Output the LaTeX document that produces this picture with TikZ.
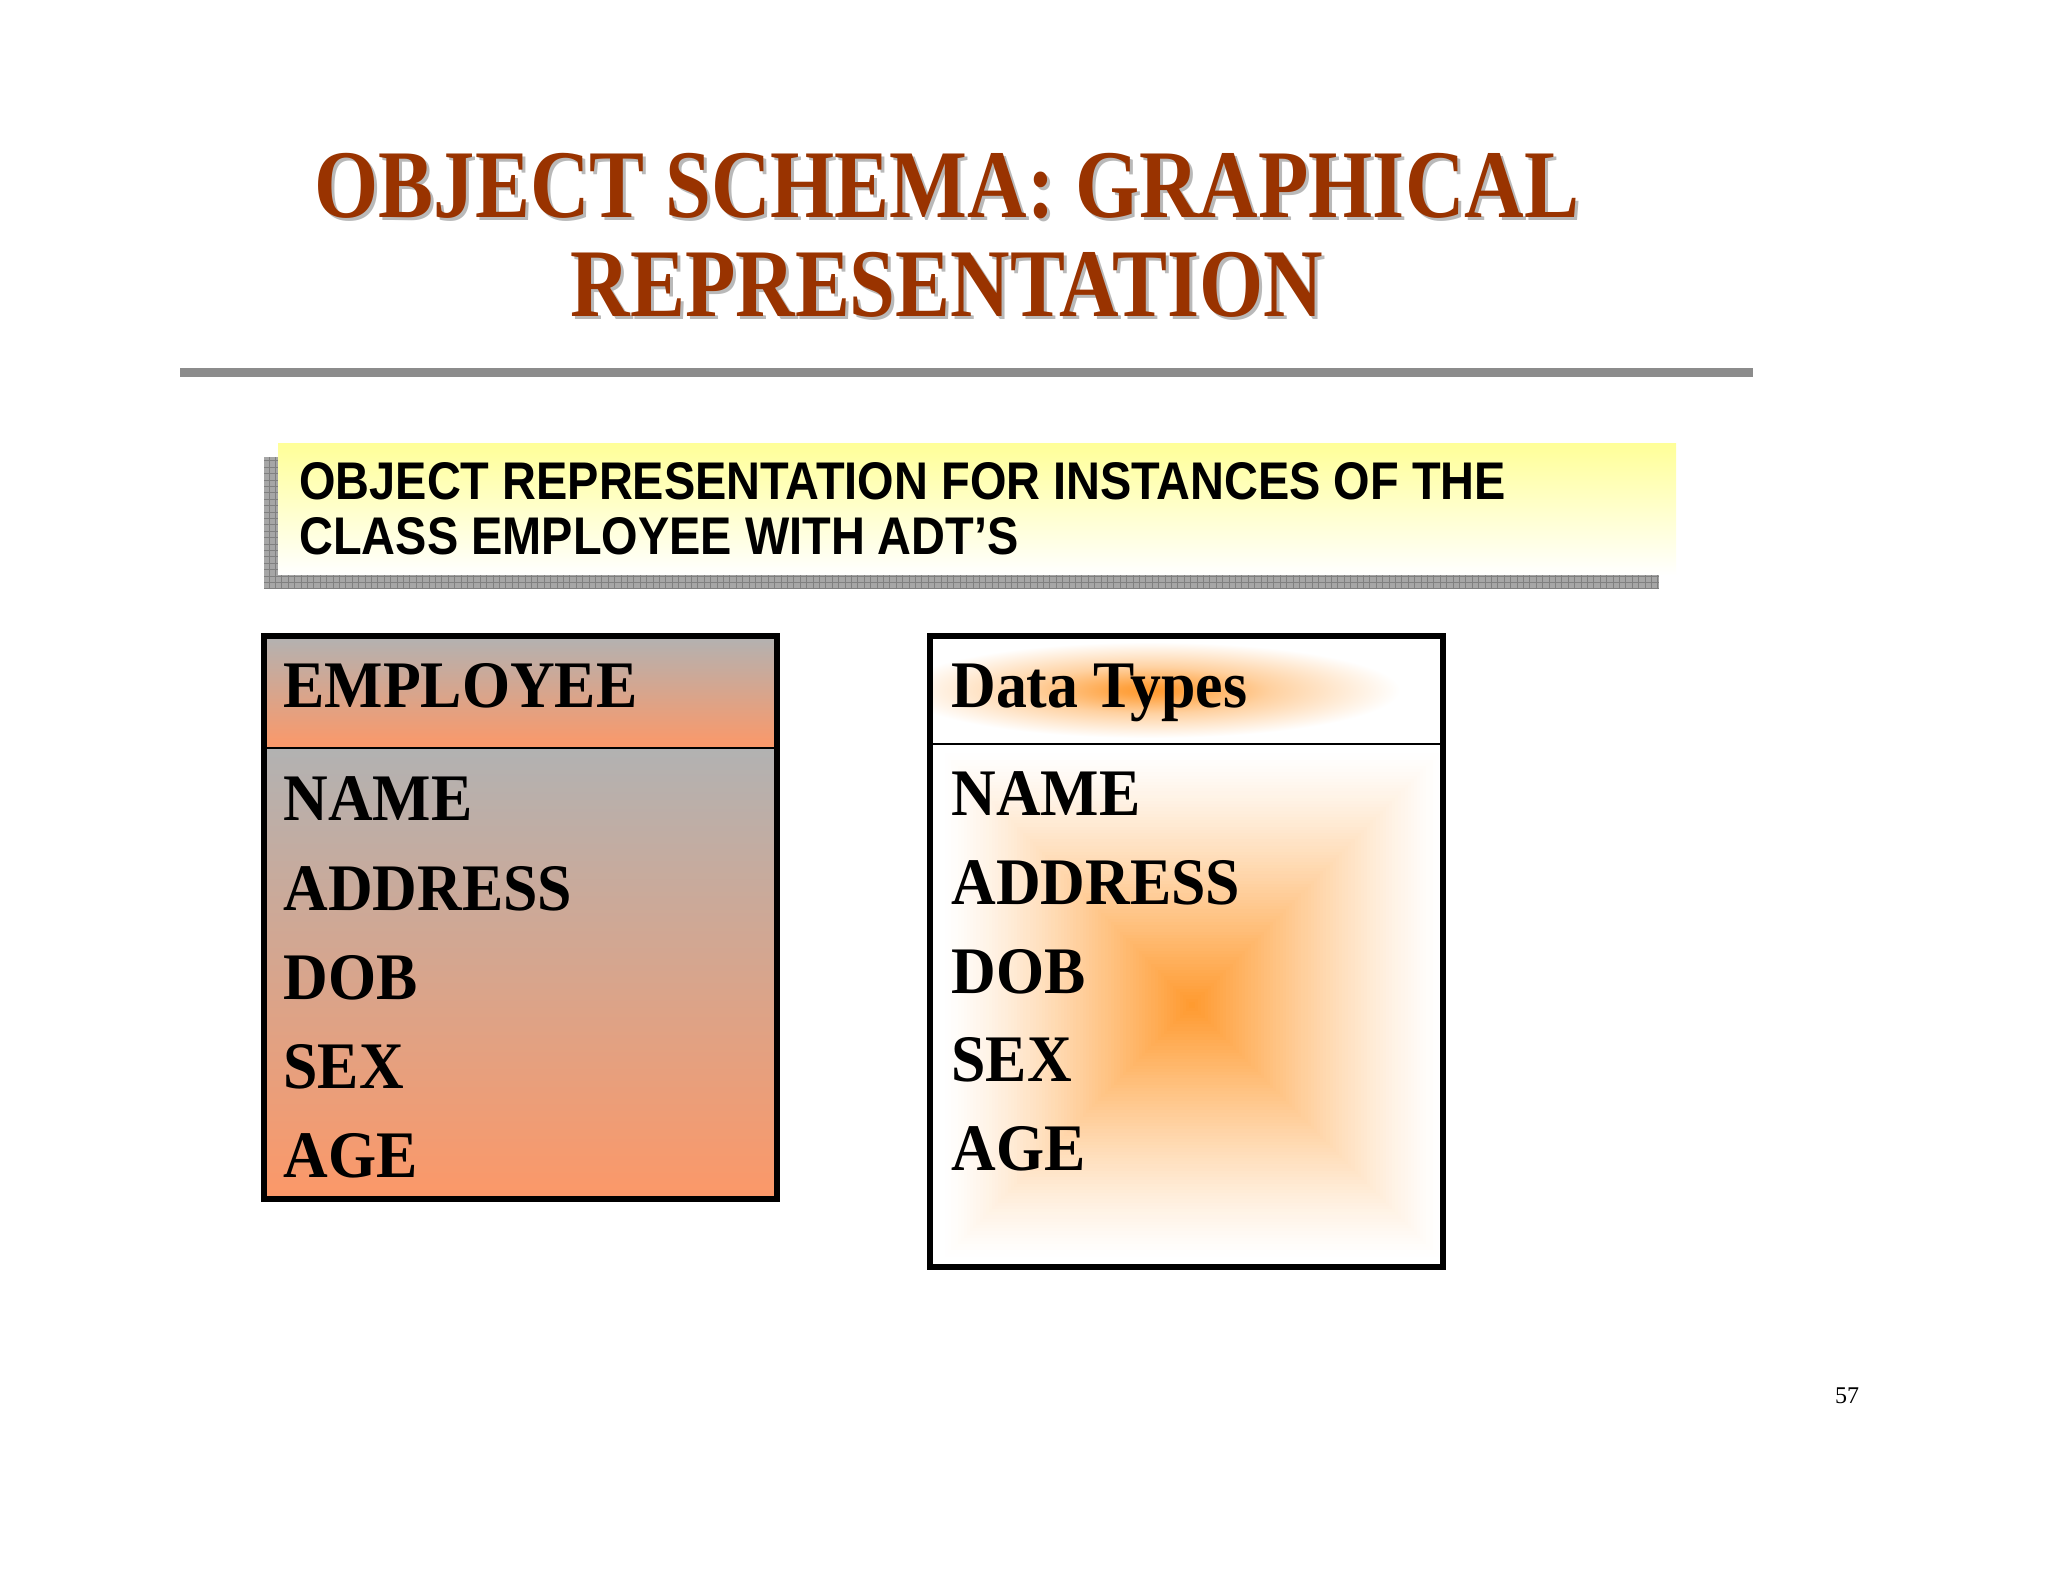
\documentclass[tikz,border=0pt]{standalone}
\usepackage{fontspec}
\setmainfont{Liberation Serif}
\newfontfamily\titlefont{Liberation Serif}[FakeStretch=0.85]
\newfontfamily\subfont{Liberation Sans}[FakeStretch=0.885]
\newfontfamily\bodyfont{Liberation Serif}[FakeStretch=0.93]
\definecolor{titlered}{RGB}{153,51,0}
\definecolor{titleshadow}{RGB}{185,185,185}
\definecolor{rulegray}{RGB}{140,140,140}
\definecolor{pyellow}{RGB}{255,255,153}
\definecolor{porange}{RGB}{252,152,104}
\definecolor{pgray}{RGB}{178,178,178}
\definecolor{glow}{RGB}{255,153,45}
\definecolor{shgray}{RGB}{166,166,166}
\definecolor{shline}{RGB}{128,128,128}
\pgfdeclareradialshading{hglow}{\pgfpoint{0bp}{0bp}}{color(0bp)=(glow); color(3bp)=(glow!90!white); color(12bp)=(glow!45!white); color(25bp)=(white); color(50bp)=(white)}
\begin{document}
\begin{tikzpicture}[x=0.5pt,y=-0.5pt,
  titletext/.style={anchor=base,inner sep=0pt,text=titlered,font=\titlefont\bfseries\fontsize{48.5pt}{50pt}\selectfont},
  titleshade/.style={anchor=base,inner sep=0pt,text=titleshadow,font=\titlefont\bfseries\fontsize{48.5pt}{50pt}\selectfont},
  subtext/.style={anchor=base west,inner sep=0pt,font=\subfont\bfseries\fontsize{26.5pt}{28pt}\selectfont},
  bodytext/.style={anchor=base west,inner sep=0pt,font=\bodyfont\bfseries\fontsize{33.25pt}{35pt}\selectfont},
  border/.style={line width=3pt},
  sep/.style={line width=1.4pt}]
\useasboundingbox (0,0) rectangle (2048,1582);
\fill[white] (0,0) rectangle (2048,1582);

% title
\node[titleshade] (t1s) at (950,221) {OBJECT SCHEMA: GRAPHICAL};
\node[titletext] (t1) at (947,218) {OBJECT SCHEMA: GRAPHICAL};
\node[titleshade] (t2s) at (950,320) {REPRESENTATION};
\node[titletext] (t2) at (947,317) {REPRESENTATION};

% rule
\fill[rulegray] (180,368) rectangle (1753,377);

% subtitle box with shadow
\fill[shgray] (264,589) rectangle (1659,457);
\draw[shline,line width=0.3pt,step=3.2pt] (264,589) grid (1659,457);
\shade[top color=pyellow,middle color=pyellow!55!white,bottom color=white] (278,444) rectangle (1676,575);
\node[subtext] (s1) at (299,500) {OBJECT REPRESENTATION FOR INSTANCES OF THE};
\node[subtext] (s2) at (299,555) {CLASS EMPLOYEE WITH ADT’S};

% employee box
\shade[top color=pgray,bottom color=porange] (264,636) rectangle (777,748);
\shade[top color=pgray,middle color=pgray!45!porange,bottom color=porange] (264,748) rectangle (777,1199);
\draw[sep] (264,748) -- (777,748);
\draw[border] (264,636) rectangle (777,1199);
\node[bodytext] (e0) at (283,707) {EMPLOYEE};
\node[bodytext] (e1) at (283,820) {NAME};
\node[bodytext] (e2) at (283,910) {ADDRESS};
\node[bodytext] (e3) at (283,999) {DOB};
\node[bodytext] (e4) at (283,1088) {SEX};
\node[bodytext] (e5) at (283,1177) {AGE};

% data types box
\fill[white] (930,636) rectangle (1443,1267);
\begin{scope}
  \clip (930,636) rectangle (1443,744);
  \shade[shading=hglow] (1150,690) ellipse (250 and 48);
\end{scope}
\begin{scope}
  \clip (930,744) rectangle (1443,1267);
  \foreach \i in {0,...,79}{
    \pgfmathsetmacro{\f}{1-\i/80}
    \pgfmathsetmacro{\p}{100*(1-\f)^1.25}
    \fill[glow!\p!white] ({1192-250*\f},{1005-255*\f}) rectangle ({1192+250*\f},{1005+255*\f});
  }
\end{scope}
\draw[sep] (930,744) -- (1443,744);
\draw[border] (930,636) rectangle (1443,1267);
\node[bodytext] (d0) at (951,707) {Data Types};
\node[bodytext] (d1) at (951,815) {NAME};
\node[bodytext] (d2) at (951,904) {ADDRESS};
\node[bodytext] (d3) at (951,993) {DOB};
\node[bodytext] (d4) at (951,1081) {SEX};
\node[bodytext] (d5) at (951,1170) {AGE};

% page number
\node[anchor=base,inner sep=0pt,font=\fontsize{12pt}{14pt}\selectfont] (pg) at (1847,1403) {57};
\end{tikzpicture}
\end{document}
